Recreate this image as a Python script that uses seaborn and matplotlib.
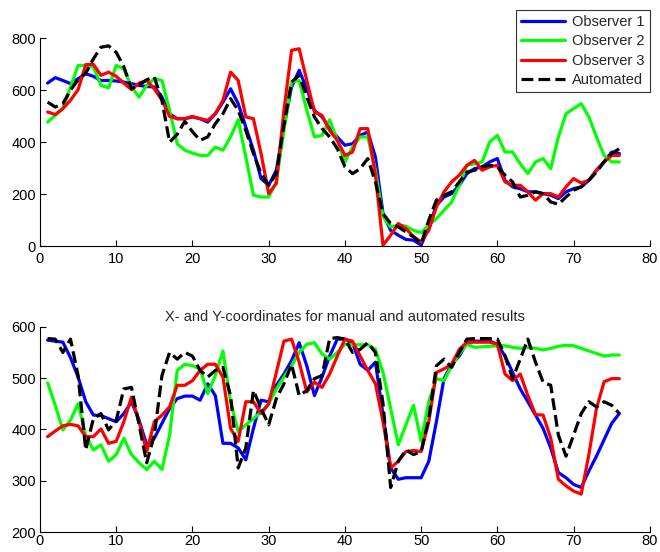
import numpy as np
import pandas as pd
import matplotlib
matplotlib.use("Agg")
import matplotlib.pyplot as plt
import seaborn as sns

frames = list(range(1, 77))

# top panel
top_obs1 = [627, 648, 637, 625, 644, 663, 653, 637, 637, 635, 631, 625, 618, 614, 612, 573, 509, 490, 490, 497,
            490, 477, 509, 554, 605, 548, 458, 369, 260, 234, 292, 458, 612, 676, 605, 522, 497, 452, 420, 388,
            394, 426, 439, 343, 125, 61, 42, 26, 23, 4, 74, 157, 189, 202, 234, 279, 298, 305, 324, 337,
            253, 228, 221, 209, 209, 202, 196, 183, 209, 221, 228, 253, 292, 324, 362, 356]
top_obs2 = [477, 503, 529, 612, 695, 695, 689, 618, 609, 695, 682, 612, 573, 618, 644, 637, 522, 394, 369, 358,
            349, 349, 381, 369, 420, 486, 343, 196, 189, 189, 247, 445, 631, 637, 522, 420, 426, 486, 407, 324,
            381, 420, 420, 292, 113, 74, 81, 77, 61, 52, 81, 106, 138, 170, 234, 311, 317, 324, 401, 426,
            362, 362, 317, 279, 324, 337, 298, 420, 509, 529, 548, 497, 420, 349, 324, 324]
top_obs3 = [516, 506, 529, 561, 602, 698, 699, 657, 669, 653, 627, 602, 627, 637, 605, 561, 499, 490, 490, 499,
            490, 484, 509, 561, 669, 637, 497, 490, 356, 202, 241, 522, 753, 759, 637, 516, 503, 445, 407, 349,
            362, 452, 452, 273, 4, 42, 87, 68, 36, 17, 61, 151, 209, 247, 273, 311, 330, 292, 305, 311,
            247, 234, 234, 209, 177, 202, 202, 189, 228, 260, 243, 253, 292, 324, 349, 349]
top_auto = [554, 535, 548, 600, 640, 665, 720, 765, 770, 745, 690, 605, 620, 640, 650, 560, 400, 430, 480, 440,
            407, 420, 471, 509, 567, 522, 445, 356, 279, 234, 279, 465, 631, 657, 573, 497, 452, 420, 375, 305,
            279, 298, 337, 247, 125, 87, 74, 55, 36, 10, 100, 177, 196, 209, 247, 285, 292, 305, 311, 305,
            273, 247, 189, 196, 209, 202, 170, 161, 189, 215, 228, 253, 285, 324, 356, 375]

# bottom panel
bot_obs1 = [574, 572, 570, 540, 502, 454, 428, 427, 421, 415, 431, 454, 418, 370, 383, 412, 441, 460, 465, 465,
            457, 489, 466, 373, 373, 364, 341, 402, 457, 454, 486, 508, 534, 569, 524, 466, 502, 543, 576, 576,
            569, 527, 515, 531, 428, 325, 303, 306, 306, 306, 338, 415, 499, 527, 543, 569, 572, 572, 572, 566,
            543, 511, 479, 454, 428, 402, 364, 316, 306, 293, 287, 319, 348, 380, 412, 431]
bot_obs2 = [491, 447, 399, 418, 450, 389, 360, 370, 338, 351, 383, 351, 335, 322, 338, 322, 389, 515, 527, 524,
            518, 470, 505, 553, 454, 396, 409, 421, 434, 450, 479, 502, 524, 550, 566, 569, 547, 537, 550, 566,
            565, 565, 565, 556, 511, 441, 370, 409, 447, 377, 454, 499, 495, 524, 547, 566, 560, 561, 562, 563,
            563, 560, 558, 560, 558, 555, 558, 562, 564, 563, 558, 553, 548, 543, 545, 545]
bot_obs3 = [386, 397, 407, 410, 407, 386, 386, 401, 373, 377, 415, 463, 415, 357, 415, 428, 444, 486, 486, 495,
            515, 527, 527, 502, 402, 377, 454, 454, 431, 450, 511, 572, 576, 531, 473, 492, 482, 508, 543, 576,
            572, 543, 515, 489, 415, 325, 338, 357, 359, 357, 415, 511, 518, 527, 556, 570, 570, 570, 570, 566,
            508, 495, 508, 466, 429, 428, 383, 303, 290, 280, 274, 351, 441, 493, 499, 499]
bot_auto = [577, 576, 550, 576, 505, 360, 421, 431, 399, 418, 479, 482, 409, 335, 389, 505, 550, 537, 550, 543,
            515, 502, 515, 521, 466, 325, 364, 476, 441, 409, 460, 489, 527, 466, 476, 499, 505, 577, 579, 576,
            550, 556, 569, 550, 450, 287, 338, 360, 351, 357, 421, 524, 537, 521, 550, 576, 577, 577, 577, 576,
            543, 499, 537, 576, 531, 492, 486, 389, 348, 389, 431, 454, 444, 454, 447, 431]

names = ["Observer 1", "Observer 2", "Observer 3", "Automated"]
colors = ["#0000ff", "#00ff00", "#ff0000", "#000000"]
styles = ["-", "-", "-", "--"]

sns.set_style("white")
plt.rcParams['font.family'] = ['Liberation Sans', 'DejaVu Sans']

fig = plt.figure(figsize=(6.6, 5.52), dpi=100)
ax1 = fig.add_axes([0.0606, 0.554, 0.924, 0.377])
ax2 = fig.add_axes([0.0606, 0.036, 0.924, 0.372])

for ax, series in [(ax1, [top_obs1, top_obs2, top_obs3, top_auto]),
                   (ax2, [bot_obs1, bot_obs2, bot_obs3, bot_auto])]:
    for name, vals, c, ls in zip(names, series, colors, styles):
        sns.lineplot(x=frames, y=vals, ax=ax, color=c, linestyle=ls, linewidth=2.3, label=name)
    ax.set_xlim(0, 80)
    ax.set_xticks(range(0, 81, 10))
    for s in ["top", "right"]:
        ax.spines[s].set_visible(False)
    for s in ["left", "bottom"]:
        ax.spines[s].set_color("black")
        ax.spines[s].set_linewidth(0.8)
    ax.tick_params(direction="in", length=4, width=0.8, labelsize=10.5, colors="black",
                   left=True, bottom=True)
    ax.tick_params(axis="y", pad=3)

ax1.tick_params(axis="x", pad=4)
ax2.tick_params(axis="x", pad=1.5)

ax1.set_ylim(0, 800)
ax1.set_yticks(range(0, 801, 200))
ax2.set_ylim(200, 600)
ax2.set_yticks(range(200, 601, 100))
ax2.get_legend().remove()

leg = ax1.legend(loc="upper right", bbox_to_anchor=(1.0, 1.135), fontsize=10.5, frameon=True,
                 fancybox=False, handlelength=3.0, borderpad=0.35, labelspacing=0.37, borderaxespad=0,
                 handletextpad=0.5)
leg.get_frame().set_edgecolor("black")
leg.get_frame().set_linewidth(0.8)

ax2.set_title("X- and Y-coordinates for manual and automated results", fontsize=10.5, pad=4)

fig.savefig("out.png", dpi=100)
